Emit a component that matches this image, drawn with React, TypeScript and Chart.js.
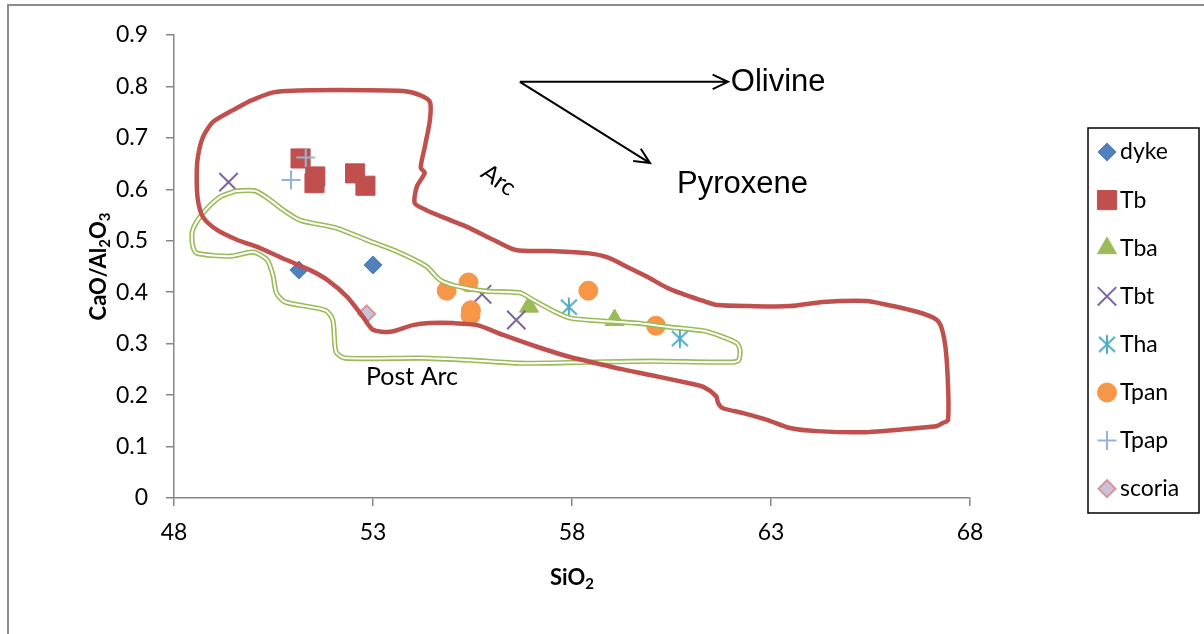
import React, { useEffect, useRef } from "react";
import { Chart, registerables } from "chart.js";
import { drawPoint } from "chart.js/helpers";

Chart.register(...registerables);

// ---------- data ----------
const xTickValues = [48, 53, 58, 63, 68];
const yTickValues = [0, 0.1, 0.2, 0.3, 0.4, 0.5, 0.6, 0.7, 0.8, 0.9];

const seriesNames = ["dyke", "Tb", "Tba", "Tbt", "Tha", "Tpan", "Tpap", "scoria"];

const dykeX = [51.14, 53.0];
const dykeY = [0.443, 0.453];
const tbX = [51.18, 51.55, 51.53, 52.55, 52.81];
const tbY = [0.66, 0.625, 0.612, 0.631, 0.607];
const tbaX = [56.92, 59.07];
const tbaY = [0.372, 0.346];
const tbtX = [49.37, 55.74, 56.6];
const tbtY = [0.614, 0.396, 0.346];
const thaX = [57.92, 60.71];
const thaY = [0.371, 0.31];
const tpanX = [54.85, 55.4, 55.46, 55.45, 58.41, 60.11];
const tpanY = [0.403, 0.419, 0.365, 0.355, 0.403, 0.335];
const tpapX = [51.31, 50.94];
const tpapY = [0.662, 0.618];
const scoriaX = [52.84];
const scoriaY = [0.358];

// "Arc" field outline
const arcX = [49.91, 50.42, 50.84, 52.1, 53.76, 54.18, 54.43, 54.43, 54.3, 54.2, 54.3, 54.1, 54.05, 54.33, 54.94, 55.36, 56.02, 56.59, 57.45, 58.38, 58.88, 59.39, 59.89, 60.46, 61.3, 61.65, 62.47, 63.48, 64.3, 65.41, 65.82, 66.67, 67.17, 67.32, 67.42, 67.45, 67.32, 67.17, 66.67, 65.41, 64.15, 63.48, 62.9, 62.3, 61.78, 61.67, 61.62, 61.3, 60.89, 59.97, 59.21, 58.78, 57.95, 57.12, 56.27, 55.62, 55.01, 54.43, 54.0, 53.43, 53.0, 52.75, 52.35, 51.85, 51.42, 50.67, 50.09, 49.58, 49.08, 48.73, 48.6, 48.57, 48.6, 48.73, 48.98, 49.48, 49.86, 49.91];
const arcY = [0.772, 0.787, 0.791, 0.793, 0.791, 0.783, 0.77, 0.735, 0.682, 0.642, 0.632, 0.605, 0.573, 0.56, 0.54, 0.527, 0.502, 0.482, 0.48, 0.476, 0.468, 0.449, 0.43, 0.406, 0.383, 0.375, 0.373, 0.373, 0.381, 0.383, 0.377, 0.362, 0.346, 0.321, 0.262, 0.152, 0.146, 0.14, 0.136, 0.128, 0.13, 0.136, 0.152, 0.165, 0.175, 0.185, 0.198, 0.216, 0.224, 0.239, 0.251, 0.259, 0.274, 0.294, 0.317, 0.336, 0.34, 0.34, 0.336, 0.323, 0.327, 0.352, 0.391, 0.424, 0.443, 0.468, 0.488, 0.502, 0.521, 0.546, 0.579, 0.624, 0.663, 0.702, 0.731, 0.754, 0.77, 0.772];

// "Post Arc" field outline
const postArcX = [49.56, 50.04, 50.42, 50.74, 51.17, 52.07, 52.83, 53.58, 54.33, 54.68, 55.09, 55.84, 56.69, 57.02, 57.52, 57.95, 58.78, 59.62, 60.46, 61.3, 61.65, 62.14, 62.22, 62.19, 62.04, 59.97, 58.36, 56.69, 55.44, 54.18, 52.3, 52.07, 51.99, 51.8, 50.79, 50.57, 50.49, 50.34, 49.99, 49.41, 48.57, 48.47, 48.47, 48.73, 49.15, 49.56];
const postArcY = [0.597, 0.597, 0.579, 0.56, 0.54, 0.525, 0.502, 0.48, 0.451, 0.424, 0.412, 0.402, 0.399, 0.385, 0.364, 0.35, 0.344, 0.34, 0.332, 0.325, 0.317, 0.301, 0.288, 0.268, 0.264, 0.266, 0.264, 0.262, 0.268, 0.272, 0.272, 0.284, 0.346, 0.365, 0.381, 0.399, 0.432, 0.463, 0.478, 0.47, 0.476, 0.49, 0.521, 0.554, 0.585, 0.597];

// annotations (data coordinates)
const arrowStartX = 56.69;
const arrowStartY = 0.809;
const arrowEndX = [61.92, 59.96];
const arrowEndY = [0.809, 0.651];
const noteText = ["Olivine", "Pyroxene", "Arc", "Post Arc"];
const noteX = [61.99, 60.64, 56.15, 53.98];
const noteY = [0.809, 0.612, 0.618, 0.235];

// ---------- helpers ----------
const pts = (xs: number[], ys: number[]) => xs.map((x, i) => ({ x, y: ys[i] }));

function makeAsterisk(color: string) {
  const c = document.createElement("canvas");
  c.width = 22;
  c.height = 22;
  const g = c.getContext("2d")!;
  g.strokeStyle = color;
  g.lineWidth = 2;
  g.beginPath();
  g.moveTo(11, 1.5);
  g.lineTo(11, 20.5);
  g.moveTo(3, 3.5);
  g.lineTo(19, 18.5);
  g.moveTo(19, 3.5);
  g.lineTo(3, 18.5);
  g.stroke();
  return c;
}

const FONT = "Lato, 'Open Sans', sans-serif";

function drawSubText(ctx: CanvasRenderingContext2D, parts: [string, boolean][], cx: number, cy: number, size: number) {
  const main = `bold ${size}px ${FONT}`;
  const sub = `bold ${Math.round(size * 0.66)}px ${FONT}`;
  let total = 0;
  for (const [t, s] of parts) {
    ctx.font = s ? sub : main;
    total += ctx.measureText(t).width;
  }
  let x = cx - total / 2;
  ctx.textAlign = "left";
  ctx.textBaseline = "middle";
  for (const [t, s] of parts) {
    ctx.font = s ? sub : main;
    ctx.fillText(t, x, cy + (s ? size * 0.3 : 0));
    x += ctx.measureText(t).width;
  }
}

function drawArrow(ctx: CanvasRenderingContext2D, x0: number, y0: number, x1: number, y1: number) {
  const a = Math.atan2(y1 - y0, x1 - x0);
  const L = 17;
  const s = 0.44;
  ctx.beginPath();
  ctx.moveTo(x0, y0);
  ctx.lineTo(x1, y1);
  ctx.moveTo(x1 - L * Math.cos(a - s), y1 - L * Math.sin(a - s));
  ctx.lineTo(x1, y1);
  ctx.lineTo(x1 - L * Math.cos(a + s), y1 - L * Math.sin(a + s));
  ctx.stroke();
}

export default function App() {
  const ref = useRef<HTMLCanvasElement>(null);

  useEffect(() => {
    const canvas = ref.current!;
    const asterisk = makeAsterisk("#4BACC6");

    const styles: any[] = [
      { pointStyle: "rectRot", radius: 9, bg: "#4F81BD", border: "#4F81BD", bw: 1 },
      { pointStyle: "rect", radius: 13.5, bg: "#C0504D", border: "#C0504D", bw: 1 },
      { pointStyle: "triangle", radius: 11, bg: "#9BBB59", border: "#9BBB59", bw: 1 },
      { pointStyle: "crossRot", radius: 13, bg: "#8064A2", border: "#8064A2", bw: 2 },
      { pointStyle: asterisk, radius: 10, bg: "#4BACC6", border: "#4BACC6", bw: 2 },
      { pointStyle: "circle", radius: 9.5, bg: "#F79646", border: "#F79646", bw: 1 },
      { pointStyle: "cross", radius: 9.5, bg: "#95B3D7", border: "#95B3D7", bw: 2 },
      { pointStyle: "rectRot", radius: 8.5, bg: "#CCC1DA", border: "#D99694", bw: 2 },
    ];
    const seriesData = [
      pts(dykeX, dykeY),
      pts(tbX, tbY),
      pts(tbaX, tbaY),
      pts(tbtX, tbtY),
      pts(thaX, thaY),
      pts(tpanX, tpanY),
      pts(tpapX, tpapY),
      pts(scoriaX, scoriaY),
    ];

    const outline = (data: any[], color: string, width: number, label: string, order: number) => ({
      label,
      data,
      order,
      showLine: true,
      borderColor: color,
      backgroundColor: color,
      borderWidth: width,
      pointRadius: 0,
      pointHoverRadius: 0,
      fill: false,
      tension: 0.25,
      borderJoinStyle: "round",
      borderCapStyle: "round",
    });

    const datasets: any[] = [
      outline(pts(arcX, arcY), "#C0504D", 4.5, "Arc", 0),
      outline(pts(postArcX, postArcY), "#FFFFFF", 2, "Post Arc inner", 1),
      outline(pts(postArcX, postArcY), "#9BBB59", 5.2, "Post Arc", 2),
      ...seriesNames.map((name, i) => ({
        label: name,
        data: seriesData[i],
        order: 20 - i,
        showLine: false,
        pointStyle: styles[i].pointStyle,
        pointRadius: styles[i].radius,
        pointHoverRadius: styles[i].radius,
        backgroundColor: styles[i].bg,
        borderColor: styles[i].border,
        pointBorderWidth: styles[i].bw,
      })),
    ];

    const decor = {
      id: "decor",
      beforeDraw(chart: any) {
        const { ctx, width, height } = chart;
        ctx.save();
        ctx.fillStyle = "#FFFFFF";
        ctx.fillRect(0, 0, width, height);
        ctx.strokeStyle = "#8C8C8C";
        ctx.lineWidth = 2;
        ctx.strokeRect(8, 5, width + 40, height + 40);
        ctx.restore();
      },
      afterDraw(chart: any) {
        const { ctx } = chart;
        const xs = chart.scales.x;
        const ys = chart.scales.y;
        const ca = chart.chartArea;
        ctx.save();
        ctx.fillStyle = "#000";
        // axis titles
        drawSubText(ctx, [["SiO", false], ["2", true]], (ca.left + ca.right) / 2, 578, 22);
        ctx.save();
        ctx.translate(99, (ca.top + ca.bottom) / 2);
        ctx.rotate(-Math.PI / 2);
        drawSubText(ctx, [["CaO/Al", false], ["2", true], ["O", false], ["3", true]], 0, 0, 22);
        ctx.restore();

        // arrows
        ctx.strokeStyle = "#000";
        ctx.lineWidth = 2;
        const sx = xs.getPixelForValue(arrowStartX);
        const sy = ys.getPixelForValue(arrowStartY);
        for (let i = 0; i < arrowEndX.length; i++) {
          drawArrow(ctx, sx, sy, xs.getPixelForValue(arrowEndX[i]), ys.getPixelForValue(arrowEndY[i]));
        }

        // annotation text
        ctx.textBaseline = "middle";
        ctx.font = `31px 'Liberation Sans', Arial, sans-serif`;
        ctx.textAlign = "left";
        ctx.fillText(noteText[0], xs.getPixelForValue(noteX[0]), ys.getPixelForValue(noteY[0]) + 1);
        ctx.fillText(noteText[1], xs.getPixelForValue(noteX[1]), ys.getPixelForValue(noteY[1]) + 1);
        ctx.textAlign = "center";
        ctx.save();
        ctx.translate(xs.getPixelForValue(noteX[2]), ys.getPixelForValue(noteY[2]));
        ctx.rotate((35 * Math.PI) / 180);
        ctx.font = `24px ${FONT}`;
        ctx.fillText(noteText[2], 0, 0);
        ctx.restore();
        ctx.font = `25px ${FONT}`;
        ctx.fillText(noteText[3], xs.getPixelForValue(noteX[3]), ys.getPixelForValue(noteY[3]));

        // legend
        const lx = 1088, ly = 128, lw = 111, lh = 385;
        ctx.strokeStyle = "#000";
        ctx.lineWidth = 1.5;
        ctx.strokeRect(lx, ly, lw, lh);
        ctx.font = `23px ${FONT}`;
        ctx.textAlign = "left";
        ctx.textBaseline = "middle";
        for (let i = 0; i < seriesNames.length; i++) {
          const cy = 152 + i * 48.1;
          const st = styles[i];
          ctx.save();
          ctx.fillStyle = st.bg;
          ctx.strokeStyle = st.border;
          ctx.lineWidth = st.bw;
          drawPoint(ctx, { pointStyle: st.pointStyle, radius: st.radius, borderWidth: st.bw, rotation: 0 } as any, 1107, cy);
          ctx.restore();
          ctx.fillStyle = "#000";
          ctx.fillText(seriesNames[i], 1120, cy);
        }
        ctx.restore();
      },
    };

    const axisColor = "#868686";
    const chart = new Chart(canvas, {
      type: "scatter",
      data: { datasets },
      plugins: [decor],
      options: {
        responsive: false,
        animation: false,
        devicePixelRatio: 1,
        layout: { padding: { left: 0, top: 35, right: 234, bottom: 0 } },
        plugins: { legend: { display: false }, tooltip: { enabled: false } },
        scales: {
          x: {
            type: "linear",
            min: 48,
            max: 68,
            afterBuildTicks: (s: any) => {
              s.ticks = xTickValues.map((v) => ({ value: v }));
            },
            afterFit: (s: any) => {
              s.height = 136;
            },
            ticks: { color: "#000", font: { family: FONT, size: 23 }, padding: 13, autoSkip: false, maxRotation: 0 },
            grid: { drawOnChartArea: false, drawTicks: true, tickLength: 8, color: axisColor, lineWidth: 1.5 },
            border: { display: true, color: axisColor, width: 1.5 },
          },
          y: {
            type: "linear",
            min: 0,
            max: 0.9,
            afterBuildTicks: (s: any) => {
              s.ticks = yTickValues.map((v) => ({ value: v }));
            },
            afterFit: (s: any) => {
              s.width = 174;
            },
            ticks: {
              color: "#000",
              font: { family: FONT, size: 23 },
              padding: 18,
              autoSkip: false,
              callback: (v: any) => (Number(v) === 0 ? "0" : Number(v).toFixed(1)),
            },
            grid: { drawOnChartArea: false, drawTicks: true, tickLength: 8, color: axisColor, lineWidth: 1.5 },
            border: { display: true, color: axisColor, width: 1.5 },
          },
        },
      } as any,
    });
    return () => chart.destroy();
  }, []);

  return (
    <canvas
      ref={ref}
      width={1204}
      height={634}
      style={{ position: "absolute", left: 0, top: 0, width: 1204, height: 634, display: "block" }}
    />
  );
}
